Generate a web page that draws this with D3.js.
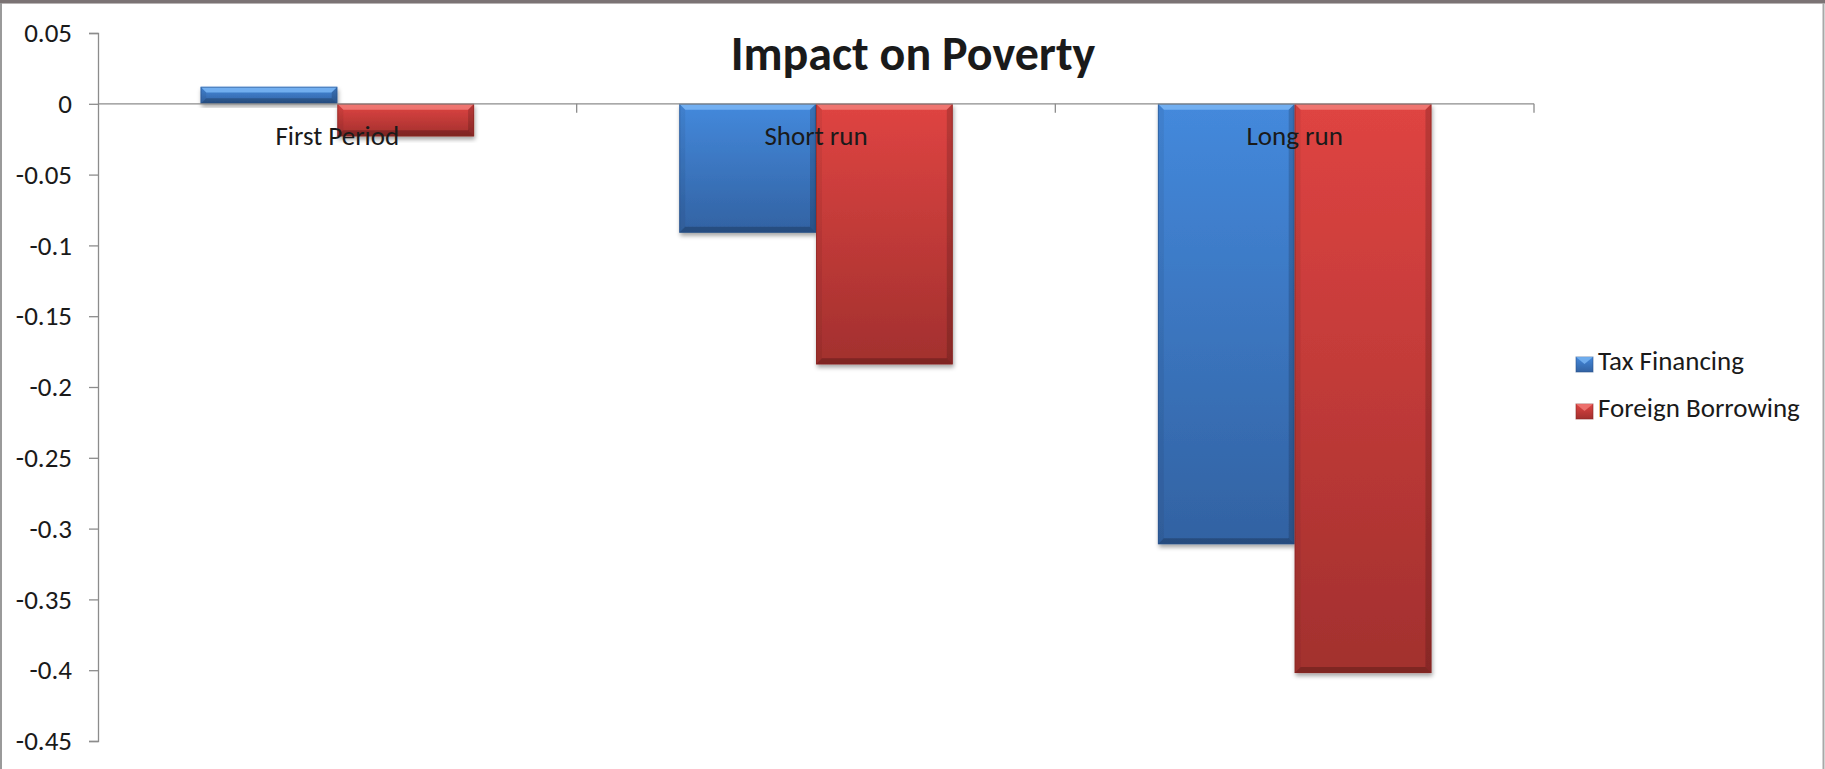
<!DOCTYPE html>
<html>
<head>
<meta charset="utf-8">
<script src="https://cdn.jsdelivr.net/npm/d3@7/dist/d3.min.js"></script>
<style>
  html, body { margin: 0; padding: 0; background: #ffffff; }
  svg { display: block; }
  text { font-family: Carlito, Lato, "Open Sans", sans-serif; fill: #1a1a1a; }
</style>
</head>
<body>
<svg id="chart" width="1825" height="769"></svg>
<script>
// Chart data
const categories = ["First Period", "Short run", "Long run"];
const seriesNames = ["Tax Financing", "Foreign Borrowing"];
const taxFinancing = [0.012, -0.091, -0.311];
const foreignBorrowing = [-0.023, -0.184, -0.402];
const tickValues = [0.05, 0, -0.05, -0.1, -0.15, -0.2, -0.25, -0.3, -0.35, -0.4, -0.45];
const tickLabels = ["0.05", "0", "-0.05", "-0.1", "-0.15", "-0.2", "-0.25", "-0.3", "-0.35", "-0.4", "-0.45"];
const titleText = "Impact on Poverty";

const seriesValues = [taxFinancing, foreignBorrowing];
const seriesColors = [
  { top: "#4489dc", bottom: "#3262a2", edge: "#2a5289", light: "#7ab6f4" },
  { top: "#df4442", bottom: "#a2302e", edge: "#862623", light: "#f27c78" }
];

const W = 1825, H = 769;
const plot = { left: 98, right: 1534, top: 33, bottom: 741 };
const labelSize = 27;

const svg = d3.select("#chart");
const defs = svg.append("defs");

seriesColors.forEach((c, i) => {
  const g = defs.append("linearGradient")
    .attr("id", "grad" + i).attr("x1", 0).attr("y1", 0).attr("x2", 0).attr("y2", 1);
  g.append("stop").attr("offset", "0%").attr("stop-color", c.top);
  g.append("stop").attr("offset", "100%").attr("stop-color", c.bottom);
});

const shadow = defs.append("filter").attr("id", "shadow")
  .attr("x", "-10%").attr("y", "-10%").attr("width", "130%").attr("height", "130%");
shadow.append("feDropShadow").attr("dx", 1).attr("dy", 3)
  .attr("stdDeviation", 2.2).attr("flood-color", "#000").attr("flood-opacity", 0.35);

// Outer frame
svg.append("rect").attr("x", 0).attr("y", 0).attr("width", W).attr("height", 3).attr("fill", "#7b7374");
svg.append("line").attr("x1", 0).attr("x2", W).attr("y1", 3.5).attr("y2", 3.5).attr("stroke", "#b8b4b4");
svg.append("line").attr("x1", 1).attr("x2", 1).attr("y1", 3).attr("y2", H).attr("stroke", "#9a9a9a").attr("stroke-width", 2);
svg.append("line").attr("x1", 1823.5).attr("x2", 1823.5).attr("y1", 3).attr("y2", H).attr("stroke", "#a8a8a8").attr("stroke-width", 2);

// Scales
const y = d3.scaleLinear().domain([-0.45, 0.05]).range([plot.bottom, plot.top]);
const x0 = d3.scaleBand().domain(categories).range([plot.left, plot.right]).padding(0);
const x1 = d3.scaleBand().domain(seriesNames).range([0, x0.bandwidth()]).paddingInner(0).paddingOuter(0.75);

// Y axis
const yAxis = d3.axisLeft(y).tickValues(tickValues).tickSize(9).tickPadding(17)
  .tickFormat((d, i) => tickLabels[i]);
const yg = svg.append("g").attr("transform", `translate(${plot.left},0)`).call(yAxis);
yg.select(".domain").attr("stroke", "#8c8c8c").attr("stroke-width", 1.3);
yg.selectAll(".tick line").attr("stroke", "#8c8c8c").attr("stroke-width", 1.3);
yg.selectAll(".tick text").attr("font-size", labelSize).style("font-family", "Carlito, Lato, sans-serif").attr("fill", "#1a1a1a");

// Bars with a bevelled look
function bevelBar(g, bx, by, bw, bh, c, gi) {
  const b = Math.min(6, bh / 3);
  const grp = g.append("g").attr("filter", "url(#shadow)");
  grp.append("rect").attr("x", bx).attr("y", by).attr("width", bw).attr("height", bh)
    .attr("fill", `url(#grad${gi})`);
  const poly = (pts, fill, op) => grp.append("polygon")
    .attr("points", pts.map(p => p.join(",")).join(" ")).attr("fill", fill).attr("fill-opacity", op);
  poly([[bx, by], [bx + bw, by], [bx + bw - b, by + b], [bx + b, by + b]], c.light, 0.85);
  poly([[bx, by], [bx + b, by + b], [bx + b, by + bh - b], [bx, by + bh]], "#000", 0.06);
  poly([[bx + bw, by], [bx + bw - b, by + b], [bx + bw - b, by + bh - b], [bx + bw, by + bh]], "#000", 0.16);
  poly([[bx, by + bh], [bx + b, by + bh - b], [bx + bw - b, by + bh - b], [bx + bw, by + bh]], "#000", 0.22);
  grp.append("rect").attr("x", bx + 0.5).attr("y", by + 0.5).attr("width", bw - 1).attr("height", Math.max(0, bh - 1))
    .attr("fill", "none").attr("stroke", c.edge).attr("stroke-opacity", 0.55);
}

const barsG = svg.append("g");
seriesNames.forEach((s, si) => {
  categories.forEach((cat, ci) => {
    const v = seriesValues[si][ci];
    const bx = x0(cat) + x1(s);
    const top = y(Math.max(0, v));
    const h = Math.abs(y(v) - y(0));
    bevelBar(barsG, bx, top, x1.bandwidth(), h, seriesColors[si], si);
  });
});

// Horizontal category axis drawn at zero
const zeroY = y(0);
svg.append("line").attr("x1", plot.left).attr("x2", plot.right).attr("y1", zeroY).attr("y2", zeroY)
  .attr("stroke", "#8c8c8c").attr("stroke-width", 1.3);
const bounds = categories.map(c => x0(c)).concat([plot.right]);
svg.append("g").selectAll("line").data(bounds.slice(1)).join("line")
  .attr("x1", d => d).attr("x2", d => d).attr("y1", zeroY).attr("y2", zeroY + 9)
  .attr("stroke", "#8c8c8c").attr("stroke-width", 1.3);

svg.append("g").selectAll("text").data(categories).join("text")
  .attr("x", d => x0(d) + x0.bandwidth() / 2)
  .attr("y", zeroY + 41)
  .attr("text-anchor", "middle").attr("font-size", labelSize)
  .text(d => d);

// Title
svg.append("text").attr("x", 913).attr("y", 70).attr("text-anchor", "middle")
  .attr("font-size", 48).attr("font-weight", "bold").attr("fill", "#000").text(titleText);

// Legend
const legend = svg.append("g");
seriesNames.forEach((s, i) => {
  const ly = 357 + i * 47;
  const c = seriesColors[i];
  legend.append("rect").attr("x", 1576).attr("y", ly).attr("width", 17).attr("height", 15)
    .attr("fill", `url(#grad${i})`).attr("stroke", c.edge).attr("stroke-opacity", 0.6);
  legend.append("polygon")
    .attr("points", `1576,${ly} 1593,${ly} 1584.5,${ly + 7}`).attr("fill", c.light).attr("fill-opacity", 0.8);
  legend.append("text").attr("x", 1598).attr("y", ly + 13).attr("font-size", labelSize).text(s);
});
</script>
</body>
</html>
